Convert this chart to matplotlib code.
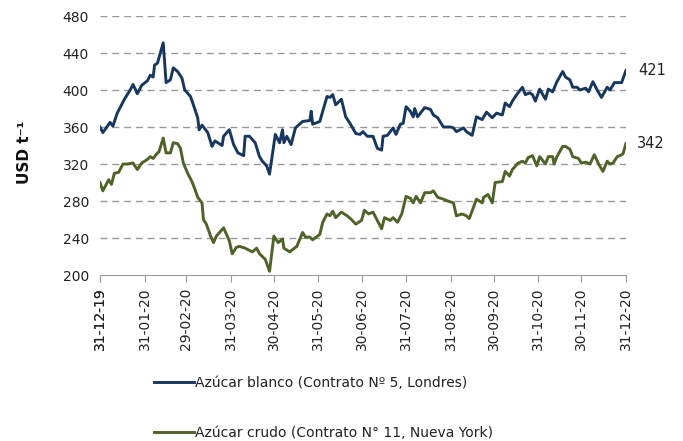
import numpy as np
import pandas as pd
import matplotlib
matplotlib.use('Agg')
import matplotlib.pyplot as plt
import matplotlib.dates as mdates

plt.rcParams['font.family'] = ['DejaVu Sans']

start = pd.Timestamp('2019-12-31')

# days since 31-12-19, USD/t
blanco_dias = [0,2,7,9,12,17,21,23,26,29,33,35,37,38,40,44,46,49,51,54,57,59,63,65,68,69,71,75,78,80,
               85,86,90,93,96,100,101,104,108,111,113,116,118,122,125,127,128,130,133,136,141,146,147,148,
               153,155,158,160,162,164,168,171,174,178,181,183,186,190,193,196,197,200,204,206,209,211,213,
               216,218,219,221,226,230,232,235,239,244,246,248,253,255,259,262,266,269,273,276,280,282,285,
               287,290,294,296,299,301,303,306,310,312,315,318,322,324,327,329,332,334,338,340,343,346,349,
               353,355,358,363,366]
blanco = [360,354,365,361,375,390,400,406,396,405,410,416,414,427,429,451,408,411,424,420,413,400,393,384,
          370,357,362,354,339,345,340,350,357,341,332,329,350,350,343,328,323,318,309,352,343,357,343,350,
          341,359,366,367,377,363,366,377,393,392,395,384,390,371,364,353,352,355,350,350,337,335,350,351,
          359,352,363,364,382,377,371,380,371,381,379,373,370,360,360,359,355,359,355,351,371,368,376,370,
          375,373,386,382,388,395,403,395,397,395,388,401,390,401,398,409,420,414,411,403,403,400,402,398,
          409,400,392,403,400,408,408,421]

crudo_dias = [0,2,6,8,10,13,16,19,23,26,29,33,35,37,40,41,44,46,49,51,54,56,58,61,64,66,68,71,72,74,
              77,79,81,86,88,90,92,95,97,101,106,109,111,115,118,121,124,127,128,132,137,141,143,146,148,
              153,155,158,160,162,164,168,172,175,178,182,184,187,190,193,196,198,202,204,207,210,213,216,
              218,220,223,226,230,232,235,239,242,246,248,252,255,257,262,266,267,270,273,275,280,282,285,
              287,291,294,296,298,301,304,306,310,312,315,316,318,322,324,327,329,333,335,338,341,344,347,
              350,353,355,357,360,363,364,366]
crudo = [300,291,303,298,310,311,320,320,321,314,321,325,328,326,332,333,348,332,332,343,342,337,321,310,
         301,293,284,278,260,255,242,235,242,251,244,237,223,230,231,229,225,229,223,217,204,242,235,239,
         229,225,231,246,241,241,238,244,257,266,264,269,262,268,264,260,255,259,270,266,268,259,250,262,
         259,262,257,266,285,283,278,285,278,289,289,291,284,282,280,278,264,266,264,261,282,278,284,287,
         278,300,301,312,307,314,321,323,321,327,329,318,328,320,328,328,320,328,339,339,336,328,326,321,
         322,320,330,320,312,323,320,321,328,330,331,342]

lbl_blanco = 'Azúcar blanco (Contrato Nº 5, Londres)'
lbl_crudo = 'Azúcar crudo (Contrato N° 11, Nueva York)'

x_b = start + pd.to_timedelta(blanco_dias, unit='D')
x_c = start + pd.to_timedelta(crudo_dias, unit='D')

c_blue  = '#17375E'
c_green = '#4F6228'
c_grid  = '#999999'

fig = plt.figure(figsize=(6.83,4.41), dpi=100)
ax  = fig.add_axes([0.1464, 0.3764, 0.770, 0.5873])

ax.plot(x_b, blanco, color=c_blue, lw=2.1, label=lbl_blanco, solid_joinstyle='round')
ax.plot(x_c, crudo, color=c_green, lw=2.1, label=lbl_crudo, solid_joinstyle='round')

ax.set_ylim(200,480)
ax.set_yticks(np.arange(200,481,40))
ax.set_xlim(start, start + pd.Timedelta(days=366))
ticks = pd.date_range('2020-01-01','2021-01-01',freq='MS') - pd.Timedelta(days=1)
ticks = ticks.insert(0, start)
ax.set_xticks(ticks)
ax.xaxis.set_major_formatter(mdates.DateFormatter('%d-%m-%y'))
plt.setp(ax.get_xticklabels(), rotation=90)

for y in np.arange(240,481,40):
    ax.axhline(y, color=c_grid, lw=1.0, ls=(0,(5,3.5)), zorder=0)

for s in ['left','right','top']:
    ax.spines[s].set_visible(False)
ax.spines['bottom'].set_color(c_grid)
ax.tick_params(axis='y', length=0, labelsize=10, colors='#222222', pad=8)
ax.tick_params(axis='x', length=5, color=c_grid, labelsize=10, labelcolor='#222222', pad=4)

ax.annotate('%d' % blanco[-1], xy=(x_b[-1], blanco[-1]), xytext=(9,0), textcoords='offset points',
            va='center', ha='left', fontsize=10.5, color='#222222', annotation_clip=False)
ax.annotate('%d' % crudo[-1], xy=(x_c[-1], crudo[-1]), xytext=(8,0), textcoords='offset points',
            va='center', ha='left', fontsize=10.5, color='#222222', annotation_clip=False)

fig.text(0.036, 0.655, 'USD t⁻¹', rotation=90, ha='center', va='center',
         fontsize=11, fontweight='bold', color='#111111')

fig.legend(loc='upper left', bbox_to_anchor=(0.225, 0.147), frameon=False, fontsize=10,
           handlelength=2.9, handletextpad=0.1, labelspacing=2.55, borderpad=0, borderaxespad=0,
           labelcolor='#222222')

plt.savefig('out.png', dpi=100)
